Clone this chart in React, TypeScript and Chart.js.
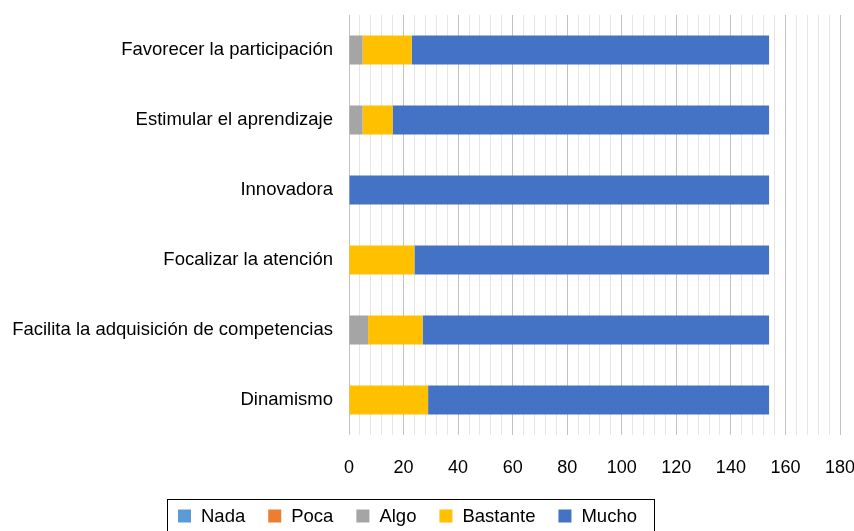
import React, { useEffect, useRef } from "react";
import { Chart, registerables } from "chart.js";

Chart.register(...registerables);

const categories = [
  "Favorecer la participación",
  "Estimular el aprendizaje",
  "Innovadora",
  "Focalizar la atención",
  "Facilita la adquisición de competencias",
  "Dinamismo",
];
const seriesNames = ["Nada", "Poca", "Algo", "Bastante", "Mucho"];
const nada = [0, 0, 0, 0, 0, 0];
const poca = [0, 0, 0, 0, 0, 0];
const algo = [5, 5, 0, 0, 7, 0];
const bastante = [18, 11, 0, 24, 20, 29];
const mucho = [131, 138, 154, 130, 127, 125];
const seriesColors = ["#5B9BD5", "#ED7D31", "#A5A5A5", "#FFC000", "#4472C4"];
const xMin = 0;
const xMax = 180;

const FONT = "'Liberation Sans', Arial, Helvetica, sans-serif";

const boxedLegend = {
  id: "boxedLegend",
  afterDraw(chart: any) {
    const ctx = chart.ctx;
    ctx.save();
    ctx.strokeStyle = "#000";
    ctx.lineWidth = 1;
    ctx.strokeRect(167.5, 499.5, 487, 40);
    ctx.font = `18.5px ${FONT}`;
    ctx.textBaseline = "middle";
    ctx.textAlign = "left";
    let x = 178;
    const y = 516;
    chart.data.datasets.forEach((ds: any) => {
      ctx.fillStyle = ds.backgroundColor;
      ctx.fillRect(x, y - 6.5, 13, 13);
      x += 13 + 10;
      ctx.fillStyle = "#000";
      ctx.fillText(ds.label, x, y + 1);
      x += ctx.measureText(ds.label).width + 23;
    });
    ctx.restore();
  },
};

export default function App() {
  const ref = useRef<HTMLCanvasElement>(null);
  useEffect(() => {
    if (!ref.current) return;
    const data = [nada, poca, algo, bastante, mucho];
    const chart = new Chart(ref.current, {
      type: "bar",
      data: {
        labels: categories,
        datasets: seriesNames.map((name, i) => ({
          label: name,
          data: data[i],
          backgroundColor: seriesColors[i],
          borderWidth: 0,
          categoryPercentage: 1,
          barPercentage: 0.415,
        })),
      },
      options: {
        indexAxis: "y",
        responsive: false,
        animation: false,
        layout: { padding: { top: 15, right: 14, left: 0, bottom: 0 } },
        plugins: { legend: { display: false }, tooltip: { enabled: false } },
        scales: {
          x: {
            stacked: true,
            min: xMin,
            max: xMax,
            afterFit: (s: any) => {
              s.height = 96;
              s.paddingLeft = 0;
              s.paddingRight = 0;
              s.paddingTop = 0;
              s.paddingBottom = 0;
            },
            afterBuildTicks: (s: any) => {
              const t = [];
              for (let v = xMin; v <= xMax; v += 4) t.push({ value: v });
              s.ticks = t;
            },
            ticks: {
              autoSkip: false,
              maxRotation: 0,
              padding: 22,
              color: "#000",
              font: { family: FONT, size: 18 },
              callback: (v: any) => (Number(v) % 20 === 0 ? String(v) : ""),
            },
            grid: {
              drawTicks: false,
              color: (c: any) =>
                c.tick && c.tick.value % 20 === 0 ? "#c2c2c2" : "#e6e6e6",
              lineWidth: 1,
            },
            border: { display: false },
          },
          y: {
            stacked: true,
            afterFit: (s: any) => {
              s.width = 349;
              s.paddingLeft = 0;
              s.paddingRight = 0;
              s.paddingTop = 0;
              s.paddingBottom = 0;
            },
            ticks: {
              padding: 16,
              color: "#000",
              font: { family: FONT, size: 18.5 },
            },
            grid: { display: false, drawTicks: false },
            border: { display: false },
          },
        },
      },
      plugins: [boxedLegend],
    });
    return () => chart.destroy();
  }, []);
  return (
    <div style={{ position: "absolute", left: 0, top: 0, width: 854, height: 531, background: "#fff" }}>
      <canvas ref={ref} width={854} height={531} style={{ display: "block" }} />
    </div>
  );
}
